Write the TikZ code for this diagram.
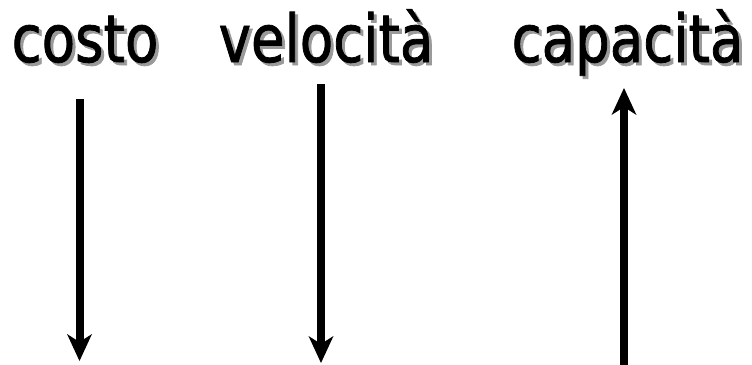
\documentclass[tikz,border=0pt]{standalone}
\usepackage{fontspec}
\setmainfont[FakeStretch=0.92,FakeBold=1.2]{DejaVu Sans Condensed}
\usetikzlibrary{arrows.meta}
\definecolor{shadowgray}{HTML}{9A9A9A}
\tikzset{
  word/.style={anchor=base, inner sep=0pt, font=\fontsize{66}{70}\selectfont},
  shadowword/.style={word, text=shadowgray},
  bigarrow/.style={line width=8pt, -{Stealth[length=27pt, width=25pt, inset=8pt, line width=0pt]}},
}
\begin{document}
\begin{tikzpicture}[x=1pt,y=-1pt]
\useasboundingbox (0,0) rectangle (752,364);
% shadows
\node[shadowword] (s1) at (88,65) {costo};
\node[shadowword] (s2) at (329,65) {velocità};
\node[shadowword] (s3) at (630.5,65) {capacità};
% words
\node[word] (w1) at (85,62) {costo};
\node[word] (w2) at (326,62) {velocità};
\node[word] (w3) at (627.5,62) {capacità};
% arrow end points
\coordinate (a1s) at (79.5,99);
\coordinate (a1e) at (79.5,361);
\coordinate (a2s) at (321,84);
\coordinate (a2e) at (321,363);
\coordinate (a3s) at (624,368);
\coordinate (a3e) at (624,88);
\draw[bigarrow] (a1s) -- (a1e);
\draw[bigarrow] (a2s) -- (a2e);
\draw[bigarrow] (a3s) -- (a3e);
\end{tikzpicture}
\end{document}
